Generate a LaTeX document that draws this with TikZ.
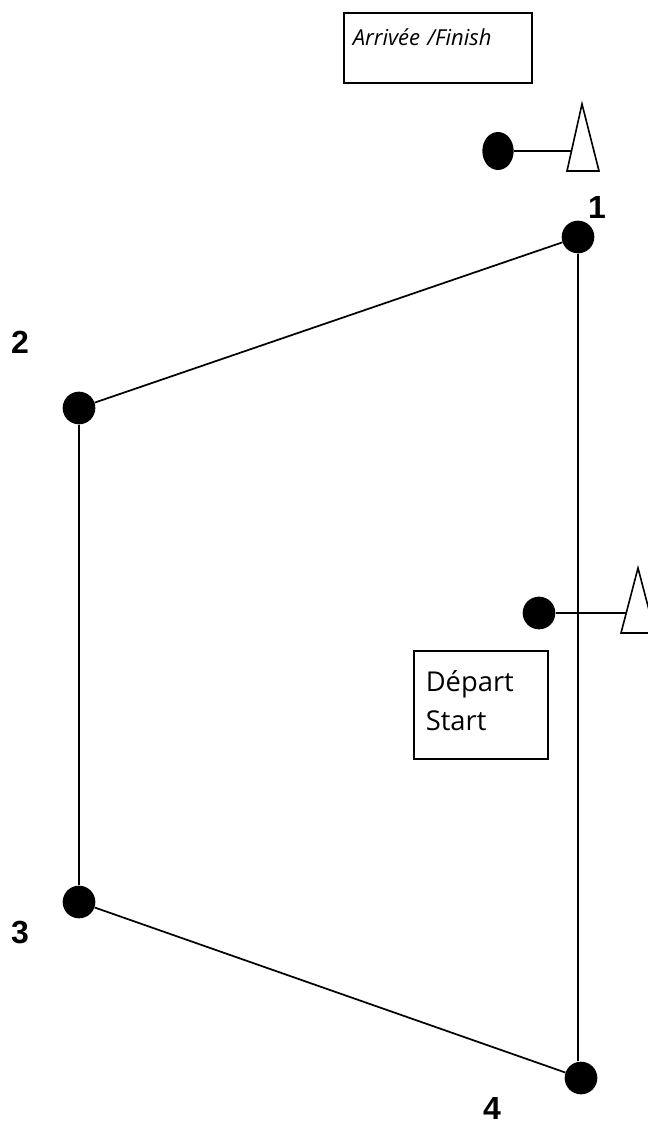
\documentclass[tikz,border=0pt]{standalone}
\usepackage{fontspec}
\setmainfont{Open Sans}
\newfontfamily\numfont{Liberation Sans}
\usetikzlibrary{positioning, shapes.geometric}

\begin{document}
\begin{tikzpicture}[x=0.75pt, y=-0.75pt,
  dot/.style={circle, fill=black, inner sep=0pt, minimum size=24.5pt},
  num/.style={font=\numfont\bfseries\fontsize{24}{24}\selectfont, inner sep=0pt},
  edge/.style={line width=1.3pt},
  flag/.style={draw, line width=1.2pt, line join=miter},
  infobox/.style={draw, line width=1.2pt, align=left, inner ysep=0pt}]

\useasboundingbox (0,0) rectangle (648,1126);

% corners of the course
\node[dot] (n1) at (578,237) {};
\node[dot] (n2) at (79,408) {};
\node[dot] (n3) at (79,902) {};
\node[dot] (n4) at (581,1078) {};

\node[num] (lone) at (597,207) {1};
\node[num] (ltwo) at (20,342) {2};
\node[num] (lthree) at (20,932) {3};
\node[num] (lfour) at (492,1108) {4};

\draw[edge] (n1) -- (n2);
\draw[edge] (n2) -- (n3);
\draw[edge] (n3) -- (n4);
\draw[edge] (n1) -- (n1 |- n4.north);

% finish flag
\node[ellipse, fill=black, inner sep=0pt, minimum width=23.5pt, minimum height=28.5pt] (findot) at (498,151) {};
\coordinate (finapex) at (582,104);
\coordinate (finleft) at (567,171);
\coordinate (finright) at (599,171);
\coordinate (finedge) at (572,151);
\draw[edge] (findot) -- (finedge);
\draw[flag] (finapex) -- (finleft) -- (finright) -- cycle;

% start flag
\node[dot] (startdot) at (539,613) {};
\coordinate (stapex) at (638,568);
\coordinate (stleft) at (621,633);
\coordinate (stright) at (655,633);
\coordinate (stedge) at (626,613);
\draw[edge] (startdot) -- (stedge);
\draw[flag] (stapex) -- (stleft) -- (stright) -- cycle;

\node[infobox, anchor=north west, inner xsep=6.75pt, text width=127.5pt,
  text height=24.75pt, text depth=27.75pt,
  font=\itshape\fontsize{16.5}{19}\selectfont] (finish) at (343,12) {Arrivée /Finish};

\node[infobox, anchor=north west, inner xsep=9pt, text width=82.5pt,
  text height=30.75pt, text depth=50.25pt,
  font=\fontsize{20.5}{29.25}\selectfont] (start) at (413,650) {Départ\\Start};

\end{tikzpicture}
\end{document}
